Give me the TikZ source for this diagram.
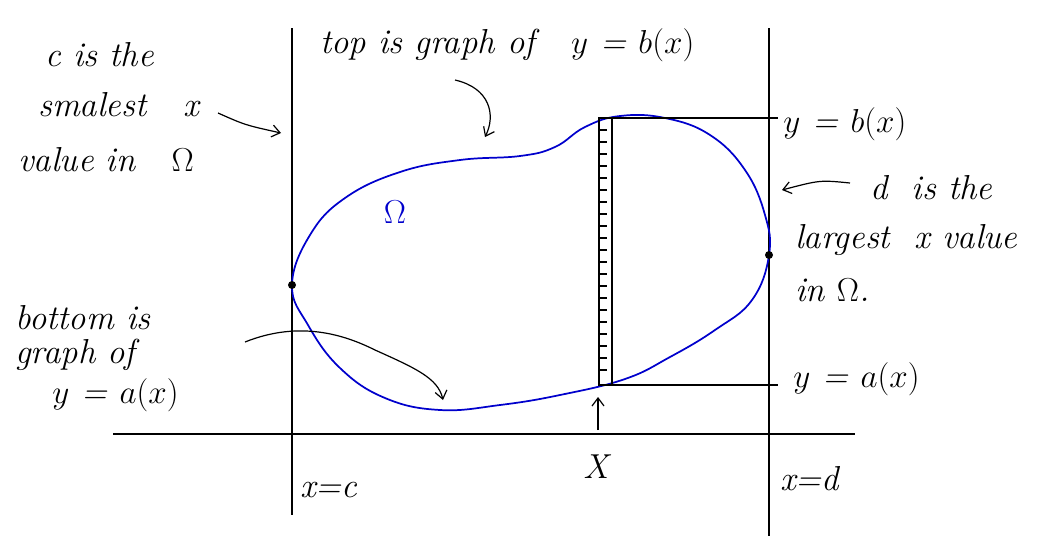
\documentclass[tikz,border=0pt]{standalone}
\usetikzlibrary{arrows.meta}
\begin{document}
\begin{tikzpicture}[x=0.75pt,y=-0.75pt,
  hand/.style={font=\fontsize{26}{30}\selectfont\itshape, inner sep=0pt, anchor=west},
  thin line/.style={draw=black, line width=0.8pt},
  arr/.style={draw=black, line width=0.9pt, -{Straight Barb[length=6pt,width=9pt]}},
  dot/.style={circle, fill=black, inner sep=0pt, minimum size=6pt}]
\useasboundingbox (0,0) rectangle (1038,536);
% vertical lines and axis
\coordinate (cTop) at (292,28); \coordinate (cBot) at (292,515);
\coordinate (dTop) at (769,28); \coordinate (dBot) at (769,536);
\coordinate (axL) at (113,434); \coordinate (axR) at (855,434);
\draw[thin line] (cTop) -- (cBot);
\draw[thin line] (dTop) -- (dBot);
\draw[black, line width=1.2pt] (axL) -- (axR);
% region Omega
\draw[blue!80!black, line width=1.3pt] plot[smooth cycle, tension=0.7] coordinates {
 (292,285) (310,235) (345,198) (400,172) (460,160) (520,156) (555,147) (585,127) (620,116)
 (665,118) (710,135) (745,170) (765,215) (769,255) (752,300) (715,330) (670,357) (625,379)
 (560,395) (500,405) (440,410) (385,398) (340,368) (308,325)};
\node[dot] (cdot) at (292,285) {};
\node[dot] (ddot) at (769,255) {};
\node[text=blue!80!black, font=\fontsize{26}{30}\selectfont] (omega) at (395,212) {$\Omega$};
% strip
\coordinate (sTL) at (599,118); \coordinate (sTR) at (612,118);
\coordinate (sBL) at (599,385); \coordinate (sBR) at (612,385);
\draw[black, line width=1pt] (sTL) rectangle (sBR);
\foreach \y in {130,142,...,375} \draw[black, line width=1.2pt] (600,\y) -- (607,\y);
\coordinate (bEnd) at (778,118); \coordinate (aEnd) at (778,385);
\draw[thin line] (sTR) -- (bEnd);
\draw[thin line] (sBR) -- (aEnd);
\node[hand] (bx) at (783,124) {$y$ = $b(x)$};
\node[hand] (ax) at (793,379) {$y$ = $a(x)$};
% X label
\node[hand, anchor=center] (X) at (596,467) {X};
\coordinate (Xtip) at (598,397);
\draw[arr] (598,430) -- (Xtip);
\node[hand] (xc) at (300,490) {x=c};
\node[hand] (xd) at (780,479) {x=d};
% top label
\node[hand] (top) at (320,45) {top is graph of \ \ $y$ = $b(x)$};
\coordinate (topS) at (455,80); \coordinate (topE) at (485,137);
\draw[arr] (topS) .. controls (490,88) and (496,115) .. (topE);
% c label
\node[hand] (c1) at (45,55) {c is the};
\node[hand] (c2) at (38,105) {smalest \ \ x};
\node[hand] (c3) at (18,160) {value in \ \ $\Omega$};
\coordinate (cS) at (218,113); \coordinate (cE) at (281,133);
\draw[arr] (cS) .. controls (245,125) .. (cE);
% d label
\coordinate (dS) at (850,183); \coordinate (dE) at (782,190);
\draw[arr] (dS) .. controls (820,180) .. (dE);
\node[hand] (d1) at (870,188) {d \ is the};
\node[hand] (d2) at (795,240) {largest \ x value};
\node[hand] (d3) at (795,290) {in $\Omega$.};
% bottom label
\node[hand] (b1) at (15,318) {bottom is};
\node[hand] (b2) at (15,355) {graph of};
\node[hand] (b3) at (52,395) {$y$ = $a(x)$};
\coordinate (bS) at (245,342); \coordinate (bE) at (443,400);
\draw[arr] (bS) .. controls (300,320) and (345,335) .. (375,350) .. controls (415,368) and (438,378) .. (bE);
\end{tikzpicture}
\end{document}
